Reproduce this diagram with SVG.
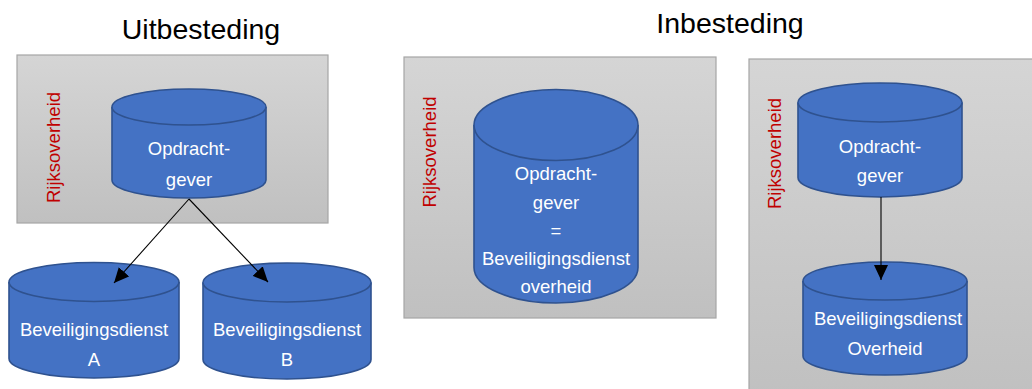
<svg xmlns="http://www.w3.org/2000/svg" width="1032" height="389" viewBox="0 0 1032 389">
<defs>
<linearGradient id="g" x1="0" y1="0" x2="0" y2="1">
<stop offset="0" stop-color="#d5d5d5"/>
<stop offset="1" stop-color="#c0c0c0"/>
</linearGradient>
<marker id="ah" markerUnits="userSpaceOnUse" markerWidth="16" markerHeight="14" refX="15" refY="7" orient="auto">
<path d="M0,0 L15,7 L0,14 Z" fill="#000"/>
</marker>
</defs>
<style>
.box{fill:url(#g);stroke:#a6a6a6;stroke-width:1.2}
.cyl{fill:#4472c4;stroke:#2f528f;stroke-width:1.6}
.t{font-family:"Liberation Sans",Arial,sans-serif;font-size:18.5px;fill:#ffffff;text-anchor:middle}
.r{font-family:"Liberation Sans",Arial,sans-serif;font-size:18.5px;fill:#c00000;text-anchor:middle}
.h{font-family:"Liberation Sans",Arial,sans-serif;font-size:28.5px;fill:#000;text-anchor:middle}
.c{stroke:#000;stroke-width:1.1;fill:none}
</style>
<rect width="1032" height="389" fill="#fff"/>
<g id="titles">
<text class="h" x="201" y="39">Uitbesteding</text>
<text class="h" x="730" y="33">Inbesteding</text>
</g>
<g id="rijk1">
<rect class="box" x="17" y="55" width="311" height="168"/>
<text class="r" transform="translate(59.5,147.5) rotate(-90)">Rijksoverheid</text>
</g>
<g id="rijk2">
<rect class="box" x="404" y="57" width="312" height="261"/>
<text class="r" transform="translate(436,152) rotate(-90)">Rijksoverheid</text>
</g>
<g id="rijk3">
<rect class="box" x="749" y="59" width="300" height="340"/>
<text class="r" transform="translate(781,153.5) rotate(-90)">Rijksoverheid</text>
</g>
<g id="opdrachtgever1">
<path class="cyl" d="M112,107 A77,18 0 0 1 266,107 L266,180 A77,18 0 0 1 112,180 Z"/>
<path class="cyl" d="M112,107 A77,18 0 0 0 266,107" fill="none"/>
<text class="t" x="189" y="155">Opdracht-</text>
<text class="t" x="189" y="185.5">gever</text>
</g>
<g id="beveiligingA">
<path class="cyl" d="M9,282 A85,19.5 0 0 1 179,282 L179,358.5 A85,19.5 0 0 1 9,358.5 Z"/>
<path class="cyl" d="M9,282 A85,19.5 0 0 0 179,282" fill="none"/>
<text class="t" x="94" y="336">Beveiligingsdienst</text>
<text class="t" x="94" y="366">A</text>
</g>
<g id="beveiligingB">
<path class="cyl" d="M203,282.5 A84,19.5 0 0 1 371,282.5 L371,359.5 A84,19.5 0 0 1 203,359.5 Z"/>
<path class="cyl" d="M203,282.5 A84,19.5 0 0 0 371,282.5" fill="none"/>
<text class="t" x="287" y="336">Beveiligingsdienst</text>
<text class="t" x="287" y="366">B</text>
</g>
<g id="opdrachtgever2">
<path class="cyl" d="M474,125 A82,35.5 0 0 1 638,125 L638,267.5 A82,35.5 0 0 1 474,267.5 Z"/>
<path class="cyl" d="M474,125 A82,35.5 0 0 0 638,125" fill="none"/>
<text class="t" x="556" y="180">Opdracht-</text>
<text class="t" x="556" y="208.5">gever</text>
<text class="t" x="556" y="237">=</text>
<text class="t" x="556" y="265">Beveiligingsdienst</text>
<text class="t" x="556" y="293">overheid</text>
</g>
<g id="opdrachtgever3">
<path class="cyl" d="M798,102.5 A82,19.5 0 0 1 962,102.5 L962,177.5 A82,19.5 0 0 1 798,177.5 Z"/>
<path class="cyl" d="M798,102.5 A82,19.5 0 0 0 962,102.5" fill="none"/>
<text class="t" x="880" y="153">Opdracht-</text>
<text class="t" x="880" y="182">gever</text>
</g>
<g id="beveiligingOverheid">
<path class="cyl" d="M803,281 A82,19 0 0 1 967,281 L967,356 A82,19 0 0 1 803,356 Z"/>
<path class="cyl" d="M803,281 A82,19 0 0 0 967,281" fill="none"/>
<text class="t" x="888" y="325">Beveiligingsdienst</text>
<text class="t" x="885" y="355">Overheid</text>
</g>
<g id="connectors">
<line class="c" x1="189" y1="199" x2="114" y2="283" marker-end="url(#ah)"/>
<line class="c" x1="189" y1="199" x2="268" y2="282" marker-end="url(#ah)"/>
<line class="c" x1="881" y1="197" x2="881" y2="280" marker-end="url(#ah)"/>
</g>
</svg>
